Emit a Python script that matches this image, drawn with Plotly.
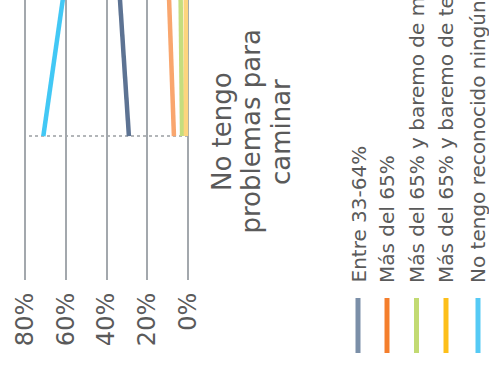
import plotly.graph_objects as go

# Mobility categories (EQ-5D style) on the category axis
categories = [
    "No tengo problemas para caminar",
    "Tengo algunos problemas para caminar",
]
# The first category's label, broken into its printed lines
category_label_lines = ["No tengo", "problemas para", "caminar"]

# Series: disability degree groups, share (%) in each mobility category
series_names = [
    "Entre 33-64%",
    "Más del 65%",
    "Más del 65% y baremo de movilidad",
    "Más del 65% y baremo de tercera persona",
    "No tengo reconocido ningún grado de discapacidad",
]
series_values = [
    [29.0, 38.2],
    [6.9, 11.9],
    [2.9, 4.4],
    [1.0, 1.2],
    [71.0, 51.0],
]
line_colors = ["#5d7393", "#f9a66e", "#c5dd7e", "#fdd57e", "#42c8f5"]
legend_colors = ["#7b8fa8", "#f47e2c", "#c2da72", "#fdbf1a", "#55caf5"]

pct_ticks = [0, 20, 40, 60, 80]
pct_labels = ["0%", "20%", "40%", "60%", "80%"]

W, H = 489, 372
FONT = "DejaVu Sans"
TEXT = "#5a5a5a"

fig = go.Figure()

# The chart is laid out turned a quarter-turn: values run right-to-left,
# categories run bottom-to-top, and all text is rotated.
for name, vals, col in zip(series_names, series_values, line_colors):
    fig.add_trace(go.Scatter(
        x=vals, y=categories, mode="lines", name=name,
        line=dict(color=col, width=4.5), showlegend=False,
        hoverinfo="skip",
    ))

# Dotted pointer line across the first category
fig.add_shape(type="line", xref="x", yref="y",
              x0=0, x1=80, y0=categories[0], y1=categories[0],
              line=dict(color="#9a9ea3", width=1.5, dash="dot"), layer="below")

# Category label, one rotated line at a time for a tight line pitch
for i, line_text in enumerate(category_label_lines):
    fig.add_annotation(text=line_text, xref="paper", yref="y",
                       x=(222 + 29.5 * i) / W, y=categories[0], textangle=-90,
                       xanchor="center", yanchor="middle", yshift=4,
                       showarrow=False,
                       font=dict(family=FONT, size=26, color=TEXT))

# Hand-built legend (rotated)
leg_x = [358, 387, 416.5, 446, 478]
for name, col, lx in zip(series_names, legend_colors, leg_x):
    fig.add_shape(type="line", xref="paper", yref="paper",
                  x0=lx / W, x1=lx / W,
                  y0=(H - 298) / H, y1=(H - 353) / H,
                  line=dict(color=col, width=5))
    fig.add_annotation(text=name, xref="paper", yref="paper",
                       x=lx / W, y=(H - 285) / H, textangle=-90,
                       xanchor="center", yanchor="bottom",
                       showarrow=False,
                       font=dict(family=FONT, size=20, color=TEXT))

fig.update_layout(
    width=W, height=H,
    margin=dict(l=0, r=0, t=0, b=0),
    paper_bgcolor="white", plot_bgcolor="white",
    xaxis=dict(
        range=[92.27, -147.73], tickvals=pct_ticks, ticktext=pct_labels,
        tickangle=-90, showgrid=True, gridcolor="#a3a8ad", gridwidth=2,
        zeroline=False, showline=False, ticks="", ticklabelstandoff=7,
        tickfont=dict(family=FONT, size=24, color=TEXT),
    ),
    yaxis=dict(
        type="category", categoryorder="array", categoryarray=categories,
        range=[-0.5035, 0.476], domain=[92 / H, 1],
        showgrid=False, zeroline=False, showline=False,
        showticklabels=False, ticks="",
    ),
)

fig.write_html("out.html")
